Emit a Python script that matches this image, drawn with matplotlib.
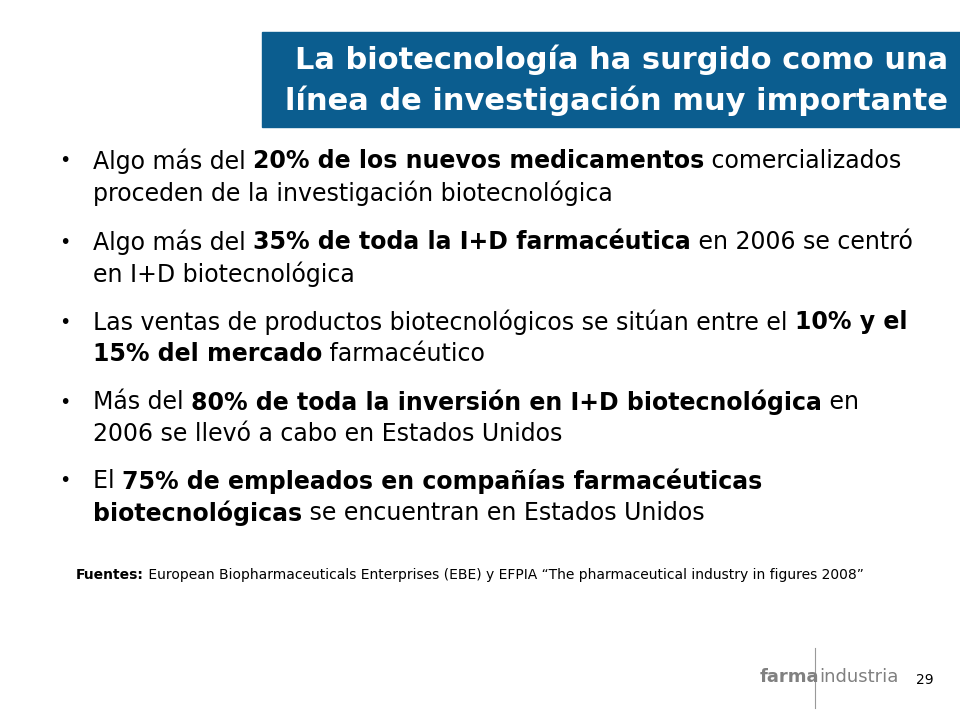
import matplotlib
matplotlib.use("Agg")
import matplotlib.pyplot as plt
from matplotlib.patches import Rectangle

W, H = 960, 720
BLUE = "#0b5d8f"

title_lines = ["La biotecnología ha surgido como una",
               "línea de investigación muy importante"]

# each bullet: list of lines, each line a list of (text, bold)
bullets = [
    [[("Algo más del ", False), ("20% de los nuevos medicamentos", True), (" comercializados", False)],
     [("proceden de la investigación biotecnológica", False)]],
    [[("Algo más del ", False), ("35% de toda la I+D farmacéutica", True), (" en 2006 se centró", False)],
     [("en I+D biotecnológica", False)]],
    [[("Las ventas de productos biotecnológicos se sitúan entre el ", False), ("10% y el", True)],
     [("15% del mercado", True), (" farmacéutico", False)]],
    [[("Más del ", False), ("80% de toda la inversión en I+D biotecnológica", True), (" en", False)],
     [("2006 se llevó a cabo en Estados Unidos", False)]],
    [[("El ", False), ("75% de empleados en compañías farmacéuticas", True)],
     [("biotecnológicas", True), (" se encuentran en Estados Unidos", False)]],
]
bullet_y = [161, 242, 322, 402, 481]
line_gap = 32

source = [("Fuentes:", True), (" European Biopharmaceuticals Enterprises (EBE) y EFPIA \u201cThe pharmaceutical industry in figures 2008\u201d", False)]
page = "29"

fig = plt.figure(figsize=(9.6, 7.2), dpi=100)
fig.patch.set_facecolor("white")
ax = fig.add_axes([0, 0, 1, 1])
ax.set_xlim(0, W)
ax.set_ylim(H, 0)
ax.axis("off")
renderer = fig.canvas.get_renderer()


def draw_runs(x, y, runs, size, color="black"):
    for txt, bold in runs:
        t = ax.text(x, y, txt, fontsize=size, color=color, va="center", ha="left",
                    fontweight="bold" if bold else "normal", family="DejaVu Sans")
        bb = t.get_window_extent(renderer)
        x += bb.width * W / fig.bbox.width
    return x


# title box
ax.add_patch(Rectangle((262, 32), W - 262, 95, color=BLUE))
for i, line in enumerate(title_lines):
    ax.text(948, 60 + i * 41, line, fontsize=22, color="white", fontweight="bold",
            ha="right", va="center", family="DejaVu Sans")

for y0, blines in zip(bullet_y, bullets):
    ax.text(65, y0, "\u2022", fontsize=14, va="center", ha="center")
    for j, runs in enumerate(blines):
        draw_runs(93, y0 + j * line_gap, runs, 17)

draw_runs(76, 575, source, 10)

# logo
ax.plot([815, 815], [648, 708], color="#999999", lw=0.8)
x = draw_runs(760, 677, [("farma", True)], 13, color="#808080")
draw_runs(x, 677, [("industria", False)], 13, color="#808080")
ax.text(925, 680, page, fontsize=10, va="center", ha="center")

fig.savefig("out.png", dpi=100)
